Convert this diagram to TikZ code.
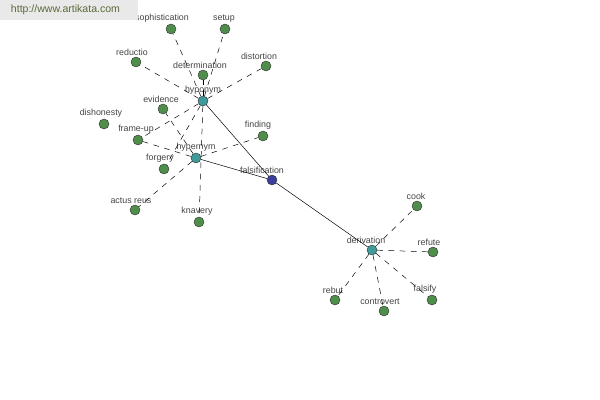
\documentclass[tikz,border=0pt]{standalone}
\usepackage{fontspec}
\setmainfont{Liberation Sans}
\usepackage{xcolor}
\definecolor{leafgreen}{HTML}{4E8E4A}
\definecolor{hubteal}{HTML}{3F9A9A}
\definecolor{rootblue}{HTML}{3A3F9C}
\definecolor{labelgray}{HTML}{444444}
\definecolor{urlbox}{HTML}{E9E9E9}
\definecolor{urltext}{HTML}{5A6A3A}

\begin{document}
\begin{tikzpicture}[x=0.025cm,y=-0.025cm,
  word/.style={circle,draw=black!80,line width=0.3pt,inner sep=0pt,minimum size=0.25cm,fill=leafgreen},
  hub/.style={word,fill=hubteal},
  root/.style={word,fill=rootblue},
  lbl/.style={font=\fontsize{6.3}{7}\selectfont,text=labelgray,inner sep=0.5pt},
  rel/.style={dashed,dash pattern=on 4pt off 4pt,line width=0.35pt},
  syn/.style={line width=0.35pt}]

\useasboundingbox (0,0) rectangle (600,400);

% centre words
\node[root,label={[lbl,xshift=-0.25cm]above:falsification}] (falsification) at (272,180) {};
\node[hub,label={[lbl]above:hyponym}] (hyponym) at (203,101) {};
\node[hub,label={[lbl]above:hypernym}] (hypernym) at (196,158) {};
\node[hub,label={[lbl,xshift=-0.15cm]above:derivation}] (derivation) at (372,250) {};

% leaf words (name/x/y/label shift/text)
\foreach \name/\x/\y/\dx/\txt in {sophistication/171/29/-9/sophistication, setup/225/29/-1/setup,
    reductio/136/62/-4/reductio, determination/203/75/-3/determination, distortion/266/66/-7/distortion,
    evidence/163/109/-2/evidence, dishonesty/104/124/-3/dishonesty, frameup/138/140/-2/frame-up,
    finding/263/136/-5/finding, forgery/164/169/-4/forgery, actusreus/135/210/-4/actus reus,
    knavery/199/222/-2/knavery, cook/417/206/-1/cook, refute/433/252/-4/refute,
    falsify/432/300/-7/falsify, rebut/335/300/-2/rebut, controvert/384/311/-4/controvert}
  \node[word,label={[lbl,xshift=\dx*0.025cm]above:\txt}] (\name) at (\x,\y) {};

% relations
\foreach \a/\b in {hyponym/sophistication, hyponym/setup, hyponym/reductio,
    hyponym/determination, hyponym/distortion, hyponym/frameup, hyponym/forgery,
    hyponym/knavery, hypernym/evidence, hypernym/frameup, hypernym/finding,
    hypernym/actusreus, derivation/cook, derivation/refute, derivation/falsify,
    derivation/rebut, derivation/controvert}
  \draw[rel] (\a) -- (\b);
\draw[syn] (hyponym) -- (falsification);
\draw[syn] (hypernym) -- (falsification);
\draw[syn] (falsification) -- (derivation);

% watermark
\fill[urlbox] (0,0) rectangle (138,20);
\node[font=\fontsize{7.5}{9}\selectfont,text=urltext,anchor=west] (url) at (6,10) {http://www.artikata.com};

\end{tikzpicture}
\end{document}
